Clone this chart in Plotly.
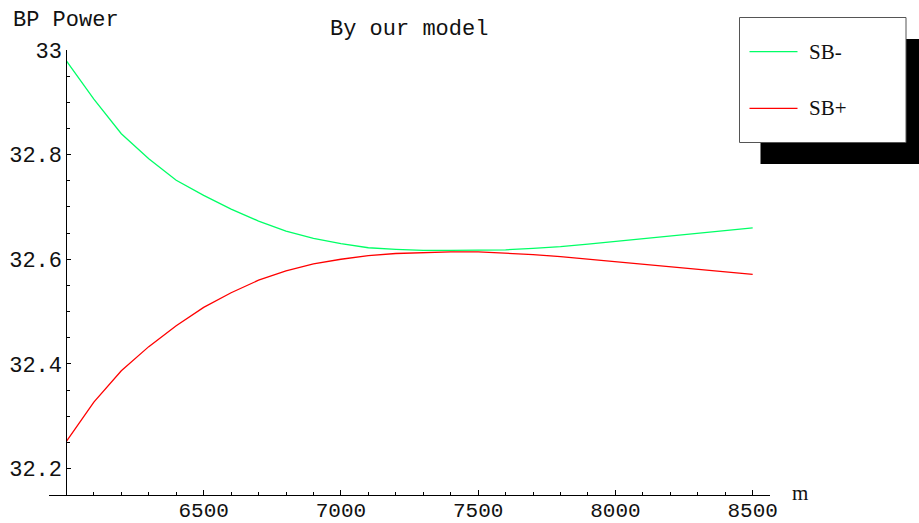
import plotly.graph_objects as go

m_vals = [6000, 6100, 6200, 6300, 6400, 6500, 6600, 6700, 6800, 6900, 7000, 7100, 7200,
          7300, 7400, 7500, 7600, 7700, 7800, 7900, 8000, 8100, 8200, 8300, 8400, 8500]
sb_minus = [32.979, 32.906, 32.840, 32.792, 32.751, 32.722, 32.696, 32.673, 32.654, 32.640,
            32.630, 32.622, 32.619, 32.617, 32.617, 32.617, 32.618, 32.621, 32.624, 32.629,
            32.634, 32.640, 32.645, 32.650, 32.655, 32.660]
sb_plus = [32.252, 32.327, 32.387, 32.433, 32.473, 32.508, 32.536, 32.560, 32.578, 32.591,
           32.600, 32.607, 32.611, 32.613, 32.614, 32.614, 32.612, 32.609, 32.605, 32.600,
           32.595, 32.590, 32.585, 32.581, 32.576, 32.571]

x_ticks = [6500, 7000, 7500, 8000, 8500]
y_ticks = [32.2, 32.4, 32.6, 32.8, 33.0]
y_tick_text = ["32.2", "32.4", "32.6", "32.8", "33"]

names = ["SB-", "SB+"]
colors = ["#00ff66", "#ff0000"]

W, H = 919, 523
L, R, T, B = 49, 149, 50, 28
x_range = [5936.6, 8563.1]
y_range = [32.1494, 33.0]
pw = W - L - R
ph = H - T - B


def px(x):
    return (x - L) / pw


def py(y):
    return 1 - (y - T) / ph


mono = "Liberation Mono, Courier New, monospace"
serif = "Liberation Serif, Times New Roman, serif"
txt = "#111"

fig = go.Figure()
for name, ys, c in zip(names, [sb_minus, sb_plus], colors):
    fig.add_trace(go.Scatter(x=m_vals, y=ys, mode="lines", name=name,
                             line=dict(color=c, width=1.3), showlegend=False))

y_pos = (6000 - x_range[0]) / (x_range[1] - x_range[0])

fig.update_layout(
    width=W, height=H,
    margin=dict(l=L, r=R, t=T, b=B, autoexpand=False),
    paper_bgcolor="white", plot_bgcolor="white",
    font=dict(family=mono, size=22, color=txt),
    xaxis=dict(range=x_range, showgrid=False, zeroline=False, showline=True,
               automargin=False, ticklabelstandoff=-4,
               linecolor="black", linewidth=1, ticks="inside", ticklen=5,
               tickcolor="black", tickwidth=1, tickvals=x_ticks,
               ticktext=[str(v) for v in x_ticks], tickfont=dict(family=mono, size=21, color=txt),
               minor=dict(dtick=100, tick0=6000, ticks="inside", ticklen=3,
                          tickcolor="black", showgrid=False)),
    yaxis=dict(range=y_range, showgrid=False, zeroline=False, showline=True,
               automargin=False,
               linecolor="black", linewidth=1, ticks="inside", ticklen=4,
               tickcolor="black", tickwidth=1, tickvals=y_ticks, ticktext=y_tick_text,
               anchor="free", position=y_pos, tickfont=dict(family=mono, size=22, color=txt),
               minor=dict(dtick=0.05, tick0=32.2, ticks="inside", ticklen=3,
                          tickcolor="black", showgrid=False)),
)

# Title and axis labels
fig.add_annotation(text="By our model", x=px(409), y=py(30), xref="paper", yref="paper",
                   showarrow=False, xanchor="center", yanchor="middle",
                   font=dict(family=mono, size=22, color=txt))
fig.add_annotation(text="BP Power", x=px(11), y=py(21), xref="paper", yref="paper",
                   showarrow=False, xanchor="left", yanchor="middle",
                   font=dict(family=mono, size=22, color=txt))
fig.add_annotation(text="m", x=px(790), y=py(493), xref="paper", yref="paper",
                   showarrow=False, xanchor="left", yanchor="middle",
                   font=dict(family=serif, size=21, color=txt))

# Legend box with shadow
fig.add_shape(type="rect", xref="paper", yref="paper",
              x0=px(760.5), x1=px(935), y0=py(39), y1=py(164),
              fillcolor="black", line=dict(width=0), layer="above")
fig.add_shape(type="rect", xref="paper", yref="paper",
              x0=px(739.5), x1=px(906), y0=py(17.5), y1=py(142.5),
              fillcolor="white", line=dict(color="#555", width=1), layer="above")
for i, (name, c) in enumerate(zip(names, colors)):
    yy = 51.7 + i * 56.6
    fig.add_shape(type="line", xref="paper", yref="paper",
                  x0=px(749.5), x1=px(797.5), y0=py(yy), y1=py(yy),
                  line=dict(color=c, width=1.3), layer="above")
    fig.add_annotation(text=name, x=px(807), y=py(yy), xref="paper", yref="paper",
                       showarrow=False, xanchor="left", yanchor="middle",
                       font=dict(family=serif, size=21, color=txt))

fig.write_html("out.html")
